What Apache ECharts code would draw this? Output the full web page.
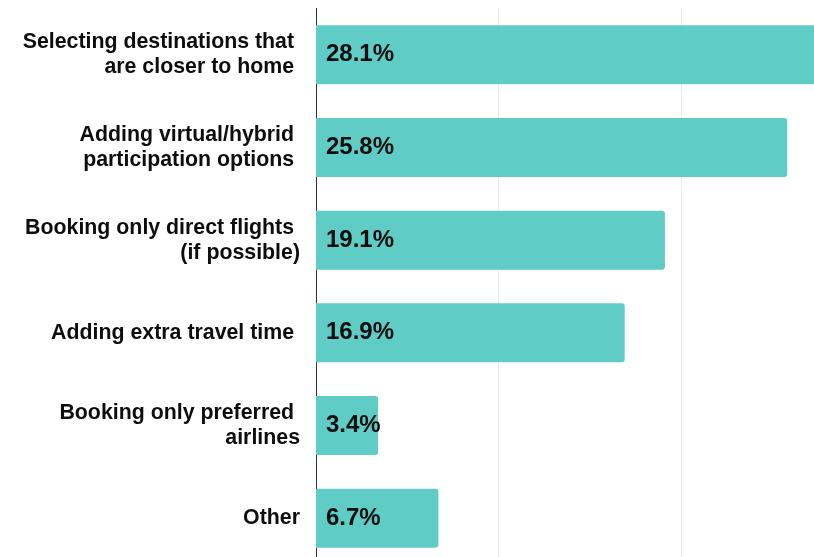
<!DOCTYPE html>
<html>
<head>
<meta charset="utf-8">
<script src="https://cdn.jsdelivr.net/npm/echarts@6/dist/echarts.min.js"></script>
<style>
  html, body { margin: 0; padding: 0; background: #ffffff; }
  #chart { width: 814px; height: 557px; }
</style>
</head>
<body>
<div id="chart"></div>
<script>
// Survey answers: travel adjustments (share of respondents, %)
const categories = [
  'Selecting destinations that \nare closer to home ',
  'Adding virtual/hybrid \nparticipation options ',
  'Booking only direct flights \n(if possible)',
  'Adding extra travel time ',
  'Booking only preferred \nairlines',
  'Other'
];
const shares = [28.1, 25.8, 19.1, 16.9, 3.4, 6.7];
const axisMax = 30;
const axisStep = 10;

const FONT = '"Liberation Sans", Arial, sans-serif';

const chart = echarts.init(document.getElementById('chart'), null, { renderer: 'canvas' });

// The plot area runs past the right and bottom edges of the canvas.
chart.setOption({
  backgroundColor: '#ffffff',
  animation: false,
  grid: {
    left: 316, top: 8.5, width: 548, height: 556,
    containLabel: false,
    outerBoundsMode: 'none'
  },
  xAxis: {
    type: 'value',
    min: 0,
    max: axisMax,
    interval: axisStep,
    axisLine: { show: false },
    axisTick: { show: false },
    axisLabel: { show: false },
    splitLine: { show: true, lineStyle: { color: '#ebebeb', width: 1 } }
  },
  yAxis: {
    type: 'category',
    inverse: true,
    data: categories,
    axisLine: { show: true, lineStyle: { color: '#333333', width: 1 } },
    axisTick: { show: false },
    axisLabel: {
      margin: 16,
      align: 'right',
      padding: [4, 0, 0, 0],
      fontFamily: FONT,
      fontWeight: 'bold',
      fontSize: 21.33,
      lineHeight: 25,
      color: '#0d0d0d'
    }
  },
  series: [{
    type: 'bar',
    data: shares,
    barWidth: 59,
    itemStyle: { color: '#5fccc5', borderRadius: [0, 3, 3, 0] },
    label: {
      show: true,
      position: 'insideLeft',
      distance: 10,
      fontFamily: FONT,
      fontWeight: 'bold',
      fontSize: 24,
      color: '#0d0d0d',
      formatter: p => p.value.toFixed(1) + '%'
    }
  }]
});
</script>
</body>
</html>
